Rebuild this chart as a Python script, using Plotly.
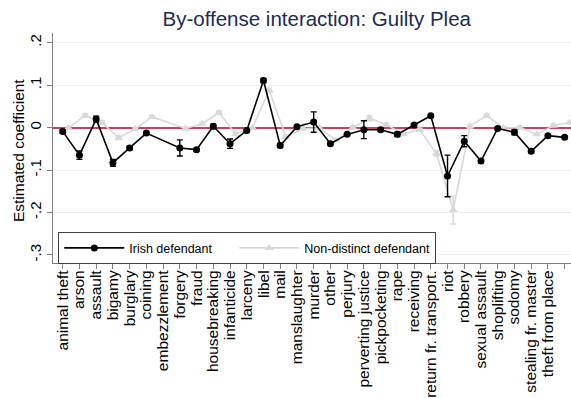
import plotly.graph_objects as go

# Offense categories on the x axis
offenses = [
    "animal theft", "arson", "assault", "bigamy", "burglary", "coining",
    "embezzlement", "forgery", "fraud", "housebreaking", "infanticide",
    "larceny", "libel", "mail", "manslaughter", "murder", "other", "perjury",
    "perverting justice", "pickpocketing", "rape", "receiving",
    "return fr. transport.", "riot", "robbery", "sexual assault",
    "shoplifting", "sodomy", "stealing fr. master", "theft from place",
    "wounding",
]

# Irish defendant: point estimates and CI half-widths
irish_coef = [
    -0.009, -0.065, 0.020, -0.083, -0.048, -0.013, None, -0.048, -0.052,
    0.003, -0.038, -0.007, 0.111, -0.042, 0.002, 0.013, -0.038, -0.016,
    -0.005, -0.005, -0.016, 0.006, 0.028, -0.114, -0.032, -0.079, -0.002,
    -0.011, -0.056, -0.019, -0.023,
]
irish_ci = [
    0.004, 0.010, 0.007, 0.008, 0.004, 0.003, None, 0.019, 0.003,
    0.005, 0.011, 0.002, 0.005, 0.005, 0.002, 0.024, 0.003, 0.003,
    0.021, 0.004, 0.005, 0.003, 0.003, 0.049, 0.013, 0.004, 0.003,
    0.006, 0.004, 0.003, 0.003,
]

# Non-distinct defendant: point estimates and CI half-widths
nondistinct_coef = [
    -0.001, 0.028, 0.012, -0.024, -0.003, 0.025, None, -0.002, 0.009,
    0.035, -0.015, -0.001, 0.088, -0.022, -0.003, -0.001, -0.030, 0.000,
    0.022, 0.007, -0.015, -0.005, -0.061, -0.194, 0.003, 0.028, -0.001,
    0.000, -0.016, 0.005, 0.012,
]
nondistinct_ci = [
    0.003, 0.004, 0.004, 0.004, 0.003, 0.003, None, 0.003, 0.003,
    0.004, 0.004, 0.002, 0.005, 0.004, 0.003, 0.003, 0.003, 0.003,
    0.006, 0.003, 0.004, 0.003, 0.006, 0.033, 0.004, 0.004, 0.003,
    0.003, 0.003, 0.003, 0.003,
]

y_ticks = [0.2, 0.1, 0.0, -0.1, -0.2, -0.3]
y_tick_labels = [".2", ".1", "0", "-.1", "-.2", "-.3"]

# second series is drawn slightly to the right of each category
OFFSET = 0.34
pos = list(range(len(offenses)))
pos_nd = [p + OFFSET for p in pos]

FONT = "Liberation Sans, Arial, Helvetica, sans-serif"
GRAY = "#d9d9d9"
AXIS = "#808080"
PAD = "\u00a0" * 5  # extra room between the two legend entries

fig = go.Figure()

fig.add_trace(go.Scatter(
    x=pos_nd, y=nondistinct_coef, name="Non-distinct defendant",
    mode="lines+markers", connectgaps=True, legendrank=2,
    line=dict(color=GRAY, width=1.6),
    marker=dict(symbol="triangle-up", size=8, color=GRAY),
    error_y=dict(type="data", array=nondistinct_ci, color=GRAY,
                 thickness=1.4, width=3),
))

fig.add_trace(go.Scatter(
    x=pos, y=irish_coef, name="Irish defendant" + PAD,
    mode="lines+markers", connectgaps=True, legendrank=1,
    line=dict(color="black", width=1.6),
    marker=dict(symbol="circle", size=7, color="black"),
    error_y=dict(type="data", array=irish_ci, color="black",
                 thickness=1.4, width=3),
))

fig.update_layout(
    width=571, height=398,
    margin=dict(l=53, r=0, t=33, b=135),
    paper_bgcolor="white", plot_bgcolor="white",
    font=dict(family=FONT, color="black"),
    title=dict(
        text="By-offense interaction: Guilty Plea",
        font=dict(size=20.5, color="#1c2b55", family=FONT),
        x=0.5547, xanchor="center", xref="container",
        y=1 - 19 / 398, yanchor="middle", yref="container",
    ),
    showlegend=True,
    legend=dict(
        orientation="h",
        x=0.0102, xanchor="left", xref="paper",
        y=0.1335, yanchor="top", yref="paper",
        bordercolor="#404040", borderwidth=1, bgcolor="white",
        font=dict(size=12.5, family=FONT),
        itemwidth=60,
    ),
    xaxis=dict(
        range=[-0.58, 30.38],
        tickmode="array", tickvals=pos, ticktext=offenses,
        tickangle=-90, ticks="outside", ticklen=5, tickcolor=AXIS,
        tickwidth=1, showline=True, linecolor=AXIS, linewidth=1.3,
        showgrid=False, zeroline=False, automargin=False,
        ticklabelstandoff=-5,
        tickfont=dict(size=15.5, family=FONT),
    ),
    yaxis=dict(
        range=[-0.319, 0.2228],
        tickmode="array", tickvals=y_ticks, ticktext=y_tick_labels,
        tickangle=-90, ticks="outside", ticklen=5, tickcolor=AXIS,
        tickwidth=1, showline=True, linecolor=AXIS, linewidth=1.3,
        showgrid=True, gridcolor="#e8f0f2", gridwidth=1,
        zeroline=True, zerolinecolor="#d6385e", zerolinewidth=1.6,
        automargin=False,
        tickfont=dict(size=15, family=FONT),
    ),
    annotations=[dict(
        text="Estimated coefficient", textangle=-90,
        xref="paper", yref="paper", x=-0.0676, y=0.491,
        xanchor="center", yanchor="middle", showarrow=False,
        font=dict(size=15.5, family=FONT, color="black"),
    )],
)

fig.write_html("out.html")
